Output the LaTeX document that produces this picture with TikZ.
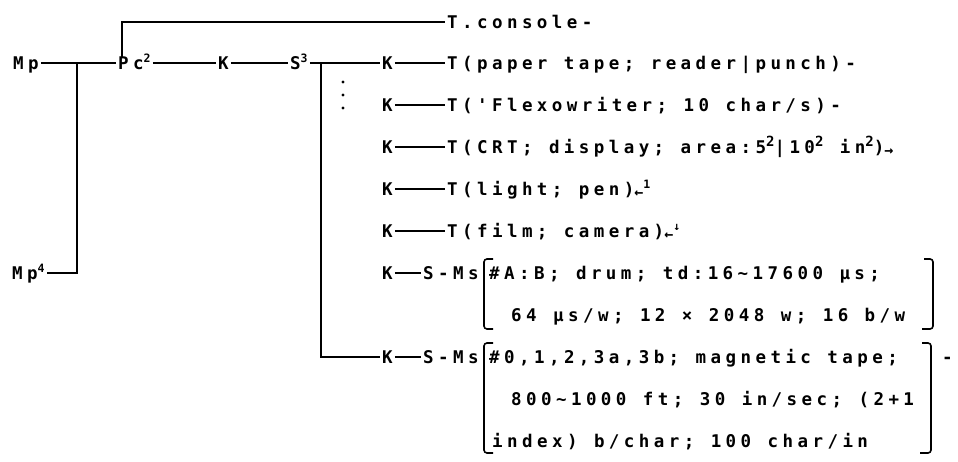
\documentclass[tikz,border=0pt]{standalone}
\usepackage{fontspec}
\newfontfamily\tw[LetterSpace=25.3,WordSpace=1.1]{DejaVu Sans Mono}
\newcommand{\twf}{\tw\bfseries\fontsize{17.5}{19}\selectfont}
\newcommand{\sps}[1]{\raisebox{6.5pt}{\fontsize{11.5}{12}\selectfont #1}}
\newcommand{\spb}[1]{\raisebox{7pt}{\fontsize{14}{14}\selectfont #1}}
\newcommand{\smarr}[1]{\raisebox{-2.5pt}{\fontsize{15}{15}\selectfont #1}}
\begin{document}
\begin{tikzpicture}[x=1pt,y=-1pt,
  txt/.style={font=\twf, anchor=west, inner xsep=2pt, inner ysep=0pt, text height=12.5pt, text depth=0pt},
  ln/.style={line width=1.6pt},
  dotm/.style={fill, circle, inner sep=0pt, minimum size=3.2pt}]
\fill[white] (0,0) rectangle (958,462);
\useasboundingbox (0,0) rectangle (958,462);
% left part
\node[txt] (mp) at (11,63) {Mp};
\node[txt] (mpf) at (10,273) {Mp\sps{4}};
\node[txt] (pc) at (116,63) {Pc\sps{2}};
\node[txt] (k0) at (216,63) {K};
\node[txt] (s) at (288,63) {S\sps{3}};
% K column
\node[txt] (k2) at (380,63) {K};
\node[txt] (k3) at (380,105) {K};
\node[txt] (k4) at (380,147) {K};
\node[txt] (k5) at (380,189) {K};
\node[txt] (k6) at (380,231) {K};
\node[txt] (k7) at (380,273) {K};
\node[txt] (k8) at (380,357) {K};
% terminals
\node[txt] (t1) at (445,22) {T.console-};
\node[txt] (t2) at (445,63) {T(paper tape; reader|punch)-};
\node[txt] (t3) at (445,105) {T('Flexowriter; 10 char/s)-};
\node[txt] (t4) at (445,147) {T(CRT; display; area:5\spb{2}|10\spb{2} in\spb{2})\smarr{→}};
\node[txt] (t5) at (445,189) {T(light; pen)\smarr{←}\sps{1}};
\node[txt] (t6) at (445,231) {T(film; camera)\smarr{←}\sps{↓}};
% secondary memories
\node[txt] (s7) at (421,273) {S-Ms};
\node[txt] (s8) at (421,357) {S-Ms};
\node[txt] (d1) at (487,273) {\#A:B; drum; td:16\string~17600 µs;};
\node[txt] (d2) at (509,315) {64 µs/w; 12 × 2048 w; 16 b/w};
\node[txt] (m1) at (487,357) {\#0,1,2,3a,3b; magnetic tape;};
\node[txt] (m2) at (509,399) {800\string~1000 ft; 30 in/sec; (2+1};
\node[txt] (m3) at (490,441) {index) b/char; 100 char/in};
\node[txt] (mdash) at (940,357) {-};
% dots
\node[dotm] (dA) at (343,82) {};
\node[dotm] (dB) at (343,95) {};
\node[dotm] (dC) at (343,108) {};
% connectors
\coordinate (j1) at (77,63);
\coordinate (j2) at (321,63);
\draw[ln] (mp) -- (pc);
\draw[ln] (j1) |- (mpf);
\draw[ln] ([xshift=6pt]pc.north west) |- (t1);
\draw[ln] (pc) -- (k0);
\draw[ln] (k0) -- (s);
\draw[ln] (s) -- (k2);
\draw[ln] (j2) |- (k8);
\draw[ln] (k2) -- (t2);
\draw[ln] (k3) -- (t3);
\draw[ln] (k4) -- (t4);
\draw[ln] (k5) -- (t5);
\draw[ln] (k6) -- (t6);
\draw[ln] (k7) -- (s7);
\draw[ln] (k8) -- (s8);
% brackets
\draw[ln, rounded corners=3pt] (493,259) -- (484,259) -- (484,329) -- (493,329);
\draw[ln, rounded corners=3pt] (924,259) -- (933,259) -- (933,329) -- (922,329);
\draw[ln, rounded corners=3pt] (493,343) -- (484,343) -- (484,453) -- (493,453);
\draw[ln, rounded corners=3pt] (922,343) -- (931,343) -- (931,453) -- (920,453);
\end{tikzpicture}
\end{document}
